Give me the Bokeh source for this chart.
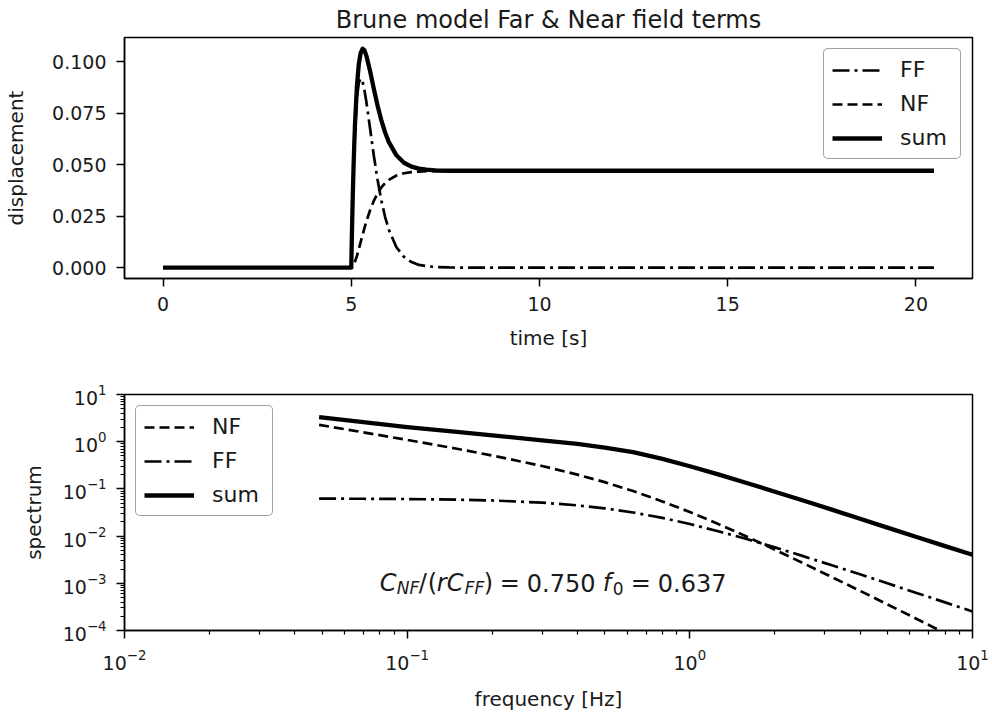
from bokeh.plotting import figure
from bokeh.layouts import column
from bokeh.models import (Range1d, FixedTicker, PrintfTickFormatter, Legend,
                          LegendItem, Label, LogTickFormatter)
from bokeh.embed import file_html
from bokeh.resources import INLINE

# ---------------- data ----------------
time_s = [0.0, 5.0, 5.02, 5.04, 5.06, 5.08, 5.10, 5.15, 5.20, 5.25, 5.30, 5.35,
          5.40, 5.50, 5.60, 5.70, 5.80, 5.90, 6.00, 6.20, 6.40, 6.60, 6.80,
          7.00, 7.30, 7.60, 8.00, 9.00, 20.48]
ff_disp = [0.0, 0.0, 0.0185, 0.0341, 0.0472, 0.0581, 0.0670, 0.0823, 0.0899,
           0.0920, 0.0904, 0.0863, 0.0808, 0.0677, 0.0544, 0.0426, 0.0326,
           0.0246, 0.0183, 0.0099, 0.0052, 0.0027, 0.0013, 0.0007, 0.0002,
           0.0001, 0.0, 0.0, 0.0]
nf_disp = [0.0, 0.0, 0.0001, 0.0005, 0.0012, 0.0020, 0.0029, 0.0057, 0.0090,
           0.0124, 0.0159, 0.0192, 0.0223, 0.0279, 0.0325, 0.0361, 0.0390,
           0.0411, 0.0427, 0.0448, 0.0459, 0.0464, 0.0467, 0.0469, 0.0470,
           0.0471, 0.0471, 0.0471, 0.0471]
sum_disp = [0.0, 0.0, 0.0186, 0.0346, 0.0484, 0.0600, 0.0699, 0.0881, 0.0989,
            0.1044, 0.1064, 0.1057, 0.1031, 0.0956, 0.0869, 0.0787, 0.0716,
            0.0657, 0.0610, 0.0546, 0.0510, 0.0491, 0.0481, 0.0476, 0.0472,
            0.0471, 0.0471, 0.0471, 0.0471]

freq_hz = [0.0488, 0.07, 0.1, 0.15, 0.2, 0.3, 0.4, 0.5, 0.63, 0.8, 1.0, 1.26,
           1.6, 2.0, 2.5, 3.2, 4.0, 5.0, 6.3, 8.0, 10.0]
nf_spec = [2.28, 1.58, 1.09, 0.708, 0.510, 0.306, 0.201, 0.139, 0.0899, 0.0543,
           0.0323, 0.0181, 0.00958, 0.00516, 0.00273, 0.00133, 0.000693,
           0.000358, 0.000180, 0.0000882, 0.0000453]
ff_spec = [0.0621, 0.0618, 0.0610, 0.0592, 0.0569, 0.0512, 0.0448, 0.0387,
           0.0316, 0.0243, 0.0180, 0.0127, 0.00855, 0.00576, 0.00381, 0.00238,
           0.00155, 0.00100, 0.000633, 0.000394, 0.000253]
sum_spec = [3.30, 2.59, 2.04, 1.61, 1.36, 1.07, 0.902, 0.750, 0.603, 0.433,
            0.302, 0.203, 0.132, 0.0873, 0.0574, 0.0360, 0.0233, 0.0151,
            0.00966, 0.00614, 0.00402]

time_ticks = [0, 5, 10, 15, 20]
disp_ticks = [0.0, 0.025, 0.05, 0.075, 0.1]
freq_ticks = [0.01, 0.1, 1.0, 10.0]
spec_ticks = [1e-4, 1e-3, 1e-2, 1e-1, 1.0, 10.0]

FONT = "DejaVu Sans"
TXT = "#1a1a1a"
DASH = "10 5"
DASHDOT = "17 5 3 5"


def minor_log(ticks):
    out = []
    for t in ticks[:-1]:
        out += [t * k for k in range(2, 10)]
    return out


def style(p):
    p.outline_line_color = "black"
    p.outline_line_width = 1.5
    p.outline_line_alpha = 1.0
    p.grid.grid_line_color = None
    p.background_fill_color = "white"
    p.border_fill_color = "white"
    for ax in p.axis:
        ax.axis_line_width = 1.5
        ax.axis_line_color = "black"
        ax.major_tick_line_width = 1.5
        ax.major_tick_line_color = "black"
        ax.major_tick_out = 8
        ax.major_tick_in = 0
        ax.minor_tick_line_width = 1.2
        ax.minor_tick_line_color = "black"
        ax.minor_tick_out = 4
        ax.minor_tick_in = 0
        ax.major_label_text_font = FONT
        ax.major_label_text_font_size = "19px"
        ax.major_label_text_color = TXT
        ax.major_label_standoff = 10
        ax.axis_label_text_font = FONT
        ax.axis_label_text_font_size = "20px"
        ax.axis_label_text_font_style = "normal"
        ax.axis_label_text_color = TXT
        ax.axis_label_standoff = 14


def style_legend(lg):
    lg.label_text_font = FONT
    lg.label_text_font_size = "22px"
    lg.label_text_color = TXT
    lg.glyph_width = 50
    lg.glyph_height = 20
    lg.label_height = 22
    lg.label_width = 52
    lg.label_standoff = 18
    lg.padding = 8
    lg.spacing = 9
    lg.border_line_color = "#444444"
    lg.border_line_width = 1.5
    lg.border_radius = 5
    lg.background_fill_color = "white"
    lg.background_fill_alpha = 1.0


# ---------------- top panel ----------------
p1 = figure(width=992, height=360, output_backend="svg", toolbar_location=None,
            x_range=Range1d(-1.024, 21.504), y_range=Range1d(-0.0053, 0.1119),
            min_border_left=124, min_border_right=20, min_border_top=36,
            min_border_bottom=82,
            title="Brune model Far & Near field terms",
            x_axis_label="time [s]", y_axis_label="displacement")
p1.title.text_font = FONT
p1.title.text_font_size = "24px"
p1.title.text_font_style = "normal"
p1.title.text_color = TXT
p1.title.align = "center"
p1.title.standoff = 7
style(p1)
p1.xaxis.major_label_standoff = 10
p1.xaxis.axis_label_standoff = 12
p1.yaxis.axis_label_standoff = 21
p1.xaxis.ticker = FixedTicker(ticks=time_ticks)
p1.yaxis.ticker = FixedTicker(ticks=disp_ticks)
p1.yaxis.formatter = PrintfTickFormatter(format="%.3f")

r1_ff = p1.line(time_s, ff_disp, line_color="black", line_width=2.7,
                line_dash=DASHDOT)
r1_nf = p1.line(time_s, nf_disp, line_color="black", line_width=2.7,
                line_dash=DASH)
r1_sum = p1.line(time_s, sum_disp, line_color="black", line_width=4.3,
                 line_join="round")
lg1 = Legend(items=[LegendItem(label="FF", renderers=[r1_ff]),
                    LegendItem(label="NF", renderers=[r1_nf]),
                    LegendItem(label="sum", renderers=[r1_sum])],
             location="top_right", margin=11)
style_legend(lg1)
p1.add_layout(lg1)

# ---------------- bottom panel ----------------
p2 = figure(width=992, height=353, output_backend="svg", toolbar_location=None,
            x_axis_type="log", y_axis_type="log",
            x_range=Range1d(0.01, 10.0), y_range=Range1d(1e-4, 10.0),
            min_border_left=124, min_border_right=20, min_border_top=34,
            min_border_bottom=76,
            x_axis_label="frequency [Hz]", y_axis_label="spectrum")
style(p2)
p2.xaxis.ticker = FixedTicker(ticks=freq_ticks, minor_ticks=minor_log(freq_ticks))
p2.yaxis.ticker = FixedTicker(ticks=spec_ticks, minor_ticks=minor_log(spec_ticks))
p2.xaxis.formatter = LogTickFormatter()
p2.yaxis.formatter = LogTickFormatter()

r2_nf = p2.line(freq_hz, nf_spec, line_color="black", line_width=2.7,
                line_dash=DASH)
r2_ff = p2.line(freq_hz, ff_spec, line_color="black", line_width=2.7,
                line_dash=DASHDOT)
r2_sum = p2.line(freq_hz, sum_spec, line_color="black", line_width=4.3,
                 line_join="round")
lg2 = Legend(items=[LegendItem(label="NF", renderers=[r2_nf]),
                    LegendItem(label="FF", renderers=[r2_ff]),
                    LegendItem(label="sum", renderers=[r2_sum])],
             location="top_left", margin=11)
style_legend(lg2)
p2.add_layout(lg2)

# annotation  C_NF/(rC_FF) = 0.750  f_0 = 0.637
ann_x, ann_y = 0.08, 0.001
pieces = [
    ("C", 0, 0, "24px", "italic"),
    ("NF", 17, -5, "17px", "italic"),
    ("/", 39, 0, "24px", "normal"),
    ("(", 48, 0, "24px", "normal"),
    ("r", 57, 0, "24px", "italic"),
    ("C", 67, 0, "24px", "italic"),
    ("FF", 85, -5, "17px", "italic"),
    (")", 104, 0, "24px", "normal"),
    ("=", 120, 0, "24px", "normal"),
    ("0.750", 147, 0, "24px", "normal"),
    ("f", 223, 0, "24px", "italic"),
    ("0", 233, -5, "17px", "normal"),
    ("=", 251, 0, "24px", "normal"),
    ("0.637", 278, 0, "24px", "normal"),
]
for txt, dx, dy, size, style_ in pieces:
    p2.add_layout(Label(x=ann_x, y=ann_y, text=txt, x_offset=dx, y_offset=dy,
                        text_font=FONT, text_font_size=size,
                        text_font_style=style_, text_color=TXT,
                        text_align="left", text_baseline="alphabetic"))

layout = column(p1, p2, spacing=0)
open("out.html", "w").write(file_html(layout, INLINE))
